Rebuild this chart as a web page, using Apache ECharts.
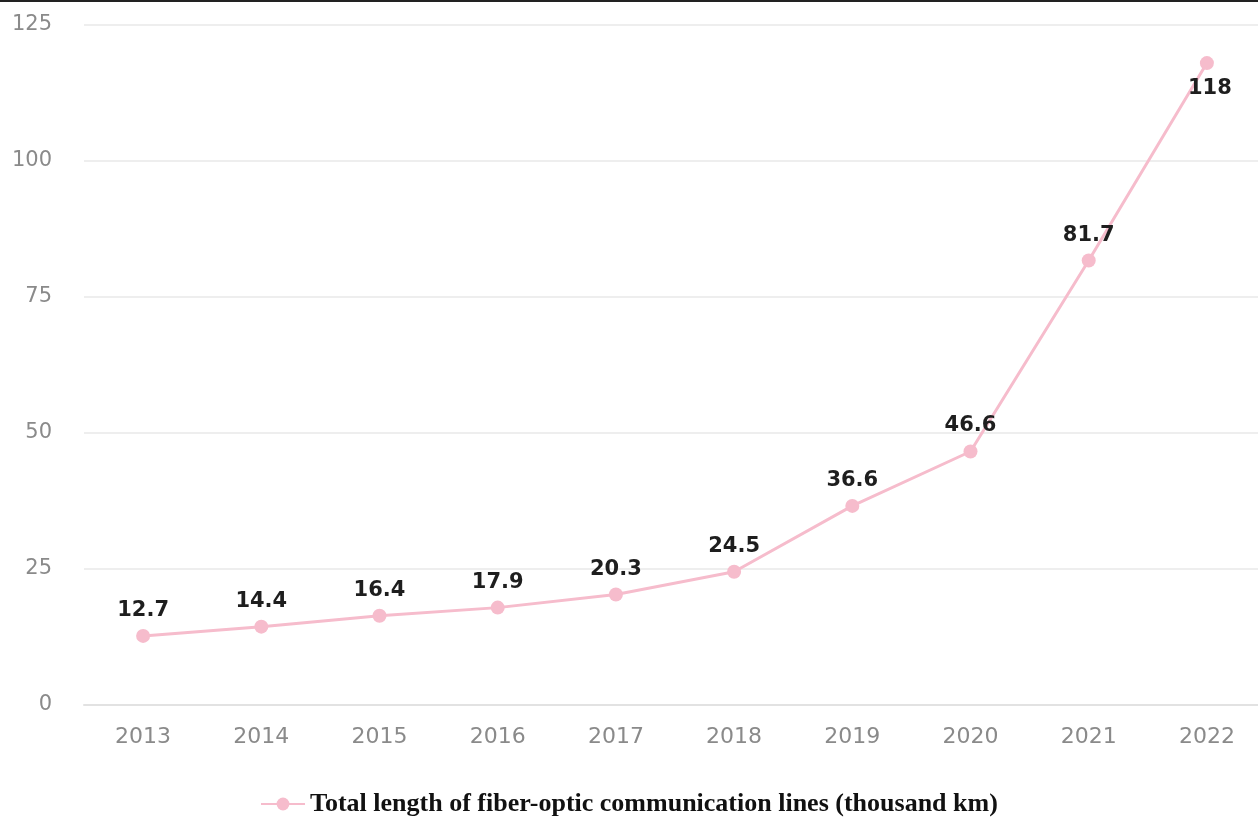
<!DOCTYPE html>
<html>
<head>
<meta charset="utf-8">
<title>Fiber-optic communication lines</title>
<script src="https://cdn.jsdelivr.net/npm/echarts@6/dist/echarts.min.js"></script>
<style>
  html, body { margin: 0; padding: 0; background: #ffffff; overflow: hidden; }
  #wrap { width: 1258px; height: 823px; overflow: hidden; }
  /* canvas is a little wider than the window so the last category sits past the edge */
  #chart { width: 1270px; height: 823px; }
</style>
</head>
<body>
<div id="wrap"><div id="chart"></div></div>
<script>
// Years on the category axis
const years = ['2013', '2014', '2015', '2016', '2017', '2018', '2019', '2020', '2021', '2022'];
// Total length of fiber-optic lines, thousand km
const lengths = [12.7, 14.4, 16.4, 17.9, 20.3, 24.5, 36.6, 46.6, 81.7, 118];
const seriesName = 'Total length of fiber-optic communication lines (thousand km)';
// Value-axis ticks
const yMin = 0, yMax = 125, yStep = 25;

const pink = '#f6bccc';

const chart = echarts.init(document.getElementById('chart'), null, { renderer: 'canvas' });

const seriesData = lengths.map((v, i) => {
  // last point gets its label under the marker
  if (i === lengths.length - 1) {
    return { value: v, label: { position: 'bottom', distance: 8, offset: [3, 0] } };
  }
  return v;
});

chart.setOption({
  animation: false,
  backgroundColor: '#ffffff',
  grid: { left: 84, width: 1182, top: 25, height: 680, containLabel: false },
  xAxis: {
    type: 'category',
    data: years,
    boundaryGap: true,
    axisLine: { show: true, lineStyle: { color: '#e2e2e2', width: 2 } },
    axisTick: { show: false },
    axisLabel: {
      color: '#8a8a8a',
      fontFamily: 'DejaVu Sans',
      fontSize: 22,
      margin: 21
    }
  },
  yAxis: {
    type: 'value',
    min: yMin,
    max: yMax,
    interval: yStep,
    axisLine: { show: false },
    axisTick: { show: false },
    axisLabel: {
      color: '#8a8a8a',
      fontFamily: 'DejaVu Sans',
      fontSize: 21,
      margin: 32
    },
    splitLine: { lineStyle: { color: '#eeeeee', width: 2 } }
  },
  legend: {
    bottom: 1,
    left: 255,
    itemWidth: 44,
    itemHeight: 16,
    itemGap: 10,
    textStyle: {
      fontFamily: 'Liberation Serif',
      fontWeight: 'bold',
      fontSize: 26,
      color: '#111111'
    },
    data: [seriesName]
  },
  graphic: [{
    type: 'rect',
    left: 0, top: 0,
    shape: { width: 1270, height: 2 },
    style: { fill: '#222222' }
  }],
  series: [{
    name: seriesName,
    type: 'line',
    data: seriesData,
    symbol: 'circle',
    symbolSize: 14,
    lineStyle: { color: pink, width: 3 },
    itemStyle: { color: pink },
    label: {
      show: true,
      position: 'top',
      distance: 8,
      color: '#1e1e1e',
      fontFamily: 'DejaVu Sans',
      fontWeight: 'bold',
      fontSize: 21
    }
  }]
});
</script>
</body>
</html>
